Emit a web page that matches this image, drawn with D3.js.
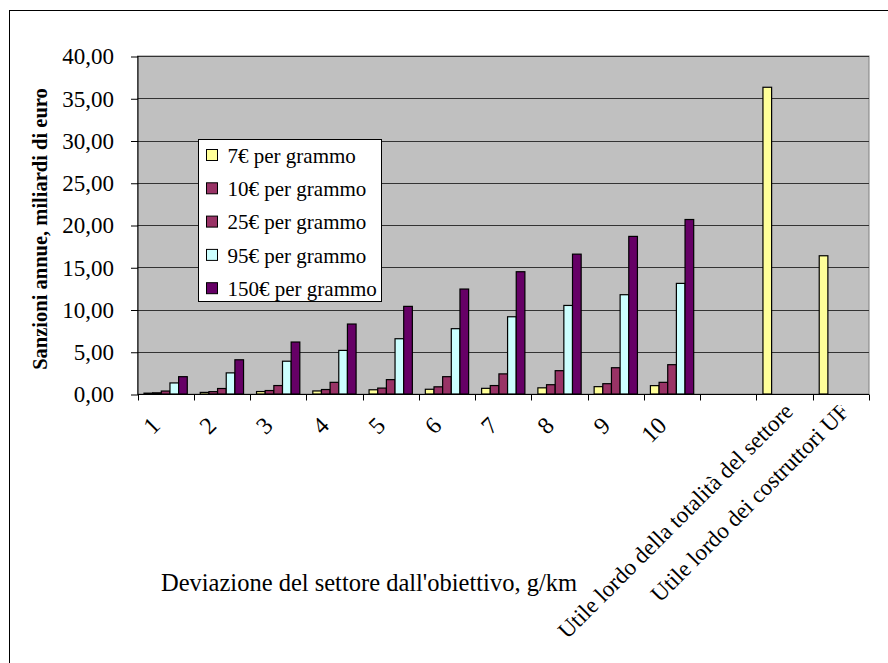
<!DOCTYPE html>
<html><head><meta charset="utf-8">
<script src="https://cdn.jsdelivr.net/npm/d3@7"></script>
<style>
html,body{margin:0;padding:0;background:#fff;}
svg{display:block;}
text{font-family:"Liberation Serif","Times New Roman",serif;fill:#000;}
</style></head>
<body>
<svg id="chart" width="888" height="663"></svg>
<script>
// ---- data ----
const categories = ["1","2","3","4","5","6","7","8","9","10","","Utile lordo della totalità del settore","Utile lordo dei costruttori UF"];
const seriesNames = ["7€ per grammo","10€ per grammo","25€ per grammo","95€ per grammo","150€ per grammo"];
const seriesColors = ["#FFFF99","#993366","#993366","#CCFFFF","#660066"];
const s7   = [0.10,0.19,0.29,0.36,0.50,0.56,0.67,0.73,0.87,0.99,null,36.30,16.36];
const s10  = [0.14,0.28,0.41,0.53,0.70,0.85,1.00,1.10,1.22,1.38,null,null,null];
const s25  = [0.35,0.65,1.00,1.38,1.70,2.05,2.38,2.76,3.11,3.47,null,null,null];
const s95  = [1.31,2.50,3.88,5.16,6.54,7.73,9.14,10.48,11.75,13.09,null,null,null];
const s150 = [2.05,4.05,6.15,8.28,10.37,12.42,14.47,16.55,18.65,20.65,null,null,null];
const yTicks = [0,5,10,15,20,25,30,35,40];
const yTitle = "Sanzioni annue, miliardi di euro";
const xTitle = "Deviazione del settore dall'obiettivo, g/km";

const series = [s7,s10,s25,s95,s150];

const svg = d3.select("#chart");
const L = 137.5, R = 869, T = 56, B = 394;

// outer frame
svg.append("rect").attr("x",9.5).attr("y",10.5).attr("width",1000).attr("height",1000)
  .attr("fill","none").attr("stroke","#000").attr("stroke-width",1);

const x0 = d3.scaleBand().domain(d3.range(categories.length)).range([L,R]).paddingInner(0).paddingOuter(0);
const gapRatio = 1.5;
const bw = x0.bandwidth()/(series.length+gapRatio);
const x1 = d3.scaleBand().domain(d3.range(series.length))
  .range([bw*gapRatio/2, bw*gapRatio/2 + bw*series.length]).padding(0);
const y = d3.scaleLinear().domain([0,40]).range([B,T]);

// plot background
svg.append("rect").attr("x",L).attr("y",T).attr("width",R-L).attr("height",B-T)
  .attr("fill","#C0C0C0").attr("stroke","#808080").attr("stroke-width",1);

// gridlines
svg.append("g").selectAll("line").data(yTicks.filter(d=>d>0)).join("line")
  .attr("x1",L).attr("x2",R).attr("y1",d=>Math.round(y(d))+0.5).attr("y2",d=>Math.round(y(d))+0.5)
  .attr("stroke","#333").attr("stroke-width",1);

// y axis
const fmt = v => d3.format(".2f")(v).replace(".",",");
const yAxis = d3.axisLeft(y).tickValues(yTicks).tickFormat(fmt).tickSize(7).tickPadding(17);
const yg = svg.append("g").attr("transform",`translate(${L+0.5},0.5)`).call(yAxis);
yg.select(".domain").attr("stroke","#000").attr("d",`M0,${T-0.5}V${B}`);
yg.selectAll(".tick line").attr("stroke","#000");
yg.selectAll(".tick text").attr("font-size",23).attr("font-family","Liberation Serif").attr("fill","#000");

// bars
const bars = svg.append("g");
series.forEach((s,si)=>{
  bars.append("g").selectAll("rect").data(s.map((v,i)=>({v,i})).filter(d=>d.v!=null)).join("rect")
    .attr("x",d=>x0(d.i)+x1(si))
    .attr("width",x1.bandwidth())
    .attr("y",d=>y(d.v))
    .attr("height",d=>B-y(d.v))
    .attr("fill",seriesColors[si])
    .attr("stroke","#000").attr("stroke-width",1.2);
});

// x axis
const xg = svg.append("g").attr("transform",`translate(0,${B+0.5})`);
xg.append("line").attr("x1",L).attr("x2",R).attr("stroke","#000");
xg.selectAll("line.tk").data(d3.range(categories.length+1)).join("line").attr("class","tk")
  .attr("x1",i=>Math.round(L+i*x0.bandwidth())+0.5).attr("x2",i=>Math.round(L+i*x0.bandwidth())+0.5)
  .attr("y1",0).attr("y2",6).attr("stroke","#000");

// x labels (rotated)
svg.append("clipPath").attr("id","lblclip").append("rect").attr("x",0).attr("y",B+11).attr("width",888).attr("height",300);
svg.append("g").attr("clip-path","url(#lblclip)")
  .selectAll("text").data(categories.map((c,i)=>({c,i}))).join("text")
  .attr("transform",d=>{
    const long = d.c.length > 3;
    const ax = x0(d.i)+x0.bandwidth()/2-10 + (long ? 14 : 0);
    const ay = B+27 - (long ? 14 : 0);
    return `translate(${ax},${ay}) rotate(-45)`;
  })
  .attr("text-anchor","end").attr("dy","0.35em").attr("font-size",d=>d.c.length>3?23:24)
  .text(d=>d.c);

// axis titles
svg.append("text").attr("transform",`translate(47,${(T+B)/2+4}) rotate(-90)`)
  .attr("text-anchor","middle").attr("font-size",20.5).attr("font-weight","bold").text(yTitle);
svg.append("text").attr("x",369).attr("y",591).attr("text-anchor","middle").attr("font-size",24.5).text(xTitle);

// legend
const lg = svg.append("g").attr("transform","translate(198.5,139.5)");
lg.append("rect").attr("width",183).attr("height",162).attr("fill","#fff").attr("stroke","#000");
seriesNames.forEach((n,i)=>{
  const cy = 16 + i*33.3;
  lg.append("rect").attr("x",8).attr("y",cy-6).attr("width",11).attr("height",11)
    .attr("fill",seriesColors[i]).attr("stroke","#000");
  lg.append("text").attr("x",29).attr("y",cy).attr("dy","0.35em").attr("font-size",21).text(n);
});
</script>
</body></html>
